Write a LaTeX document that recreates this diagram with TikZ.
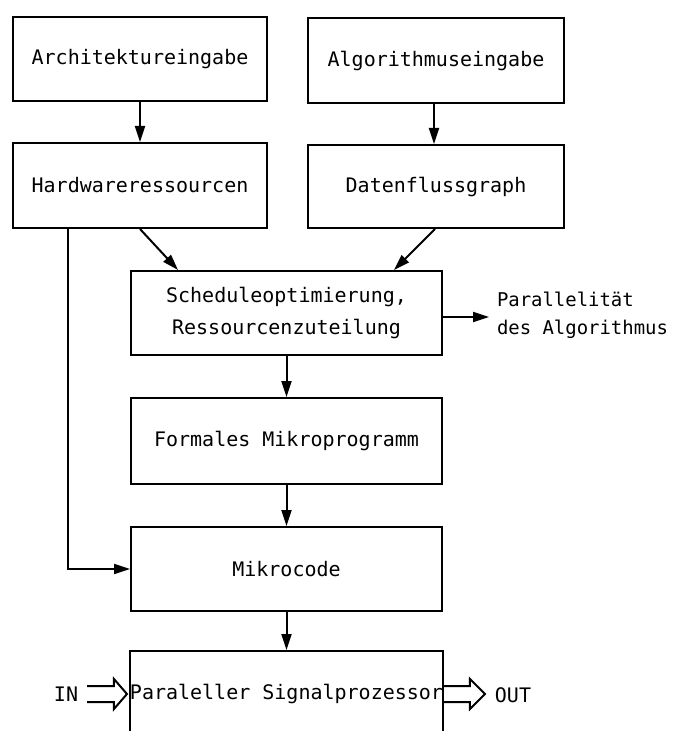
\documentclass[tikz,border=0pt]{standalone}
\usepackage{fontspec}
\newfontfamily\tw{DejaVu Sans Mono}
\usetikzlibrary{calc,arrows.meta}
\begin{document}
\begin{tikzpicture}[x=0.75pt,y=-0.75pt,
  line width=1.5pt,
  txt/.style={font=\tw\fontsize{15}{18}\selectfont, inner sep=0pt},
  bx/.style 2 args={draw, txt, line join=miter, minimum width=#1*0.75pt, minimum height=#2*0.75pt, align=center},
  arr/.style={-{Triangle[length=12pt,width=7.5pt]}},
  hollow/.style={line width=1.5pt, line join=miter}]
\useasboundingbox (0,0) rectangle (676,731);
\clip (0,0) rectangle (676,731);

\node[bx={254}{84}] (arch) at (140,59) {Architektureingabe};
\node[bx={256}{85}] (algo) at (436,60.5) {Algorithmuseingabe};
\node[bx={254}{85}] (hw) at (140,185.5) {Hardwareressourcen};
\node[bx={256}{83}] (dfg) at (436,186.5) {Datenflussgraph};
\node[bx={311}{84}, font=\tw\fontsize{15}{24}\selectfont] (sched) at (286.5,313) {Scheduleoptimierung,\\Ressourcenzuteilung};
\node[bx={311}{86}] (formal) at (286.5,441) {Formales Mikroprogramm};
\node[bx={311}{84}] (mikro) at (286.5,569) {Mikrocode};
\node[bx={311}{86}] (psp) at (286.5,694) {Paraleller Signalprozessor};

\node[txt, align=left, anchor=west, font=\tw\fontsize{14.2}{21}\selectfont] (par) at (496,315) {Parallelität\\des Algorithmus};
\node[txt] (in) at (66,694) {IN};
\node[txt] (out) at (513,695) {OUT};

\draw[arr] (arch.south) -- (hw.north);
\draw[arr] ($(algo.south)+(-2,0)$) -- ($(dfg.north)+(-2,0)$);
\draw[arr] (hw.south) -- ($(sched.north west)+(48,0)$);
\draw[arr] ($(dfg.south)+(-1,0)$) -- ($(sched.north east)+(-49,0)$);
\draw[arr] ($(hw.south west)+(56,0)$) |- (mikro.west);
\draw[arr] ($(sched.east)+(0,4)$) -- ($(sched.east -| par.west)+(-7,4)$);
\draw[arr] (sched.south) -- (formal.north);
\draw[arr] (formal.south) -- (mikro.north);
\draw[arr] (mikro.south) -- (psp.north);

% hollow IN arrow
\coordinate (inS) at ($(in.east |- psp.west)+(8,0)$);
\draw[hollow] ($(inS)+(0,-8)$) -- ($(psp.west)+(-15,-8)$) -- ++(0,-7)
  -- ($(psp.west)+(-2,0)$) -- ($(psp.west)+(-15,15)$) -- ++(0,-7) -- ($(inS)+(0,8)$);
% hollow OUT arrow
\coordinate (outT) at ($(out.west |- psp.east)+(-9,0)$);
\draw[hollow] ($(psp.east)+(0,-8)$) -- ($(outT)+(-15,-8)$) -- ++(0,-7)
  -- (outT) -- ($(outT)+(-15,15)$) -- ++(0,-7) -- ($(psp.east)+(0,8)$);
\end{tikzpicture}
\end{document}
